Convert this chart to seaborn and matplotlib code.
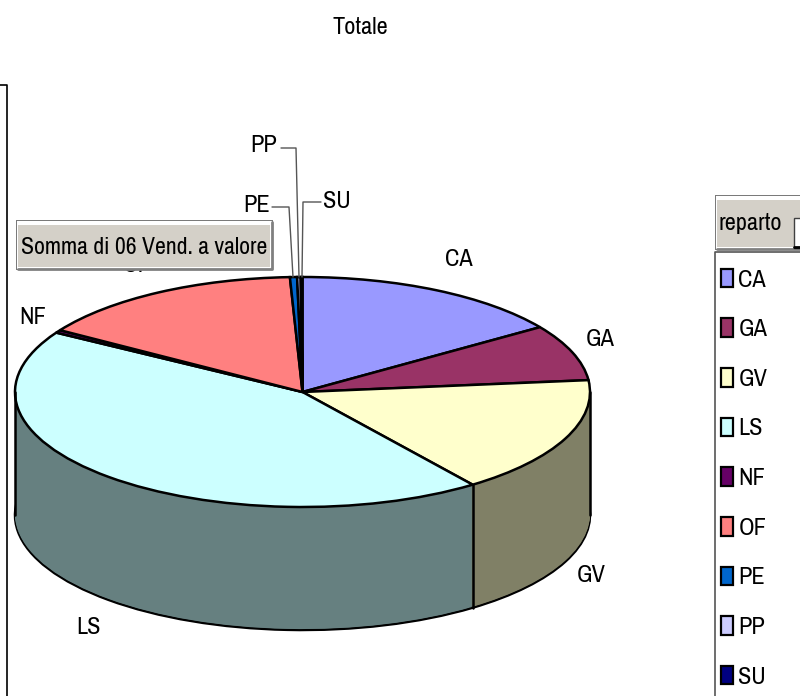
import matplotlib
matplotlib.use("Agg")
import matplotlib.pyplot as plt
from matplotlib.patches import Rectangle
import matplotlib.colors as mcolors
import numpy as np
import seaborn as sns

categories = ["CA", "GA", "GV", "LS", "NF", "OF", "PE", "PP", "SU"]
values = [15.5, 7.9, 16.6, 43.8, 0.4, 15.3, 0.4, 0.2, 0.1]
palette_hex = ["#9999FF", "#993366", "#FFFFCC", "#CCFFFF", "#660066",
               "#FF8080", "#0066CC", "#CCCCFF", "#000080"]
title = "Totale"
series_name = "Somma di 06 Vend. a valore"
legend_title = "reparto"

W, H = 800, 696
CX, CY, RX, RY, DEPTH = 302.5, 392, 287.5, 115, 123
FONT = ["Archivo Narrow", "Liberation Sans"]
FS = 17.5

sns.set_theme(style="white")
plt.rcParams["font.family"] = FONT
colors = sns.color_palette(palette_hex)
dark = [tuple(c * 0.5 for c in mcolors.to_rgb(col)) for col in colors]

fig = plt.figure(figsize=(W / 100, H / 100), dpi=100)
ax = fig.add_axes([0, 0, 1, 1])
h = DEPTH / RY
steps = 130

# side wall: stacked dark pies, deepest first
for i in range(steps + 1):
    off = -h * (1 - i / steps)
    first = i == 0
    ax.pie(values, colors=dark, startangle=90, counterclock=False, center=(0, off), radius=1,
           wedgeprops=dict(edgecolor="black" if first else None,
                           linewidth=1.8 if first else 0, antialiased=True))

# top face
top, _ = ax.pie(values, colors=colors, startangle=90, counterclock=False, center=(0, 0), radius=1,
                wedgeprops=dict(edgecolor="black", linewidth=1.8))

# vertical wall edges
ang = np.deg2rad(360 * np.cumsum(values)[2] / sum(values))
ax.plot([np.sin(ang)] * 2, [np.cos(ang), np.cos(ang) - h], color="black", lw=1.8)
for s in (-1, 1):
    ax.plot([s, s], [0, -h], color="black", lw=1.8)

ax.set_aspect("auto")
ax.set_xlim(-CX / RX, (W - CX) / RX)
ax.set_ylim((CY - H) / RY, CY / RY)
ax.axis("off")

# overlay in pixel units for the annotations
ov = fig.add_axes([0, 0, 1, 1], facecolor="none")
ov.set_xlim(0, W)
ov.set_ylim(H, 0)
ov.axis("off")

txt = dict(family=FONT, fontsize=FS, color="black")
ov.text(360, 28, title, ha="center", va="center", **txt)

label_pos = {"CA": (459, 260), "GA": (600, 339), "GV": (591, 576), "LS": (88, 628),
             "NF": (33, 317), "OF": (137, 265), "PE": (257, 206), "PP": (264, 146), "SU": (337, 201)}
for cat in categories:
    x, y = label_pos[cat]
    ov.text(x, y, cat, ha="center", va="center", zorder=2, **txt)

# leader lines
for xs, ys in [([281, 296, 299], [148, 148, 277]),
               ([272, 289, 293], [207, 207, 277]),
               ([321, 303, 302], [202, 202, 277])]:
    ov.plot(xs, ys, color="#555555", lw=1.0, zorder=2)

# left frame
ov.plot([0, 7, 7], [85, 85, H], color="black", lw=1.2, zorder=2)


def button(x0, y0, x1, y1):
    ov.add_patch(Rectangle((x0, y0), x1 - x0, y1 - y0, fc="#7a7a7a", ec="none", zorder=3))
    ov.add_patch(Rectangle((x0 + 1, y0 + 1), x1 - x0 - 2, y1 - y0 - 2, fc="white", ec="none", zorder=3))
    ov.add_patch(Rectangle((x0 + 2, y0 + 5), x1 - x0 - 5, y1 - y0 - 8, fc="#D4D0C8", ec="none", zorder=3))
    ov.plot([x0 + 2, x1 - 1, x1 - 1], [y1 - 1, y1 - 1, y0 + 2], color="#808080", lw=2, zorder=3)


# series field button
button(16, 220, 273, 270)
ov.text(21, 247, series_name, ha="left", va="center", zorder=4, family=FONT, fontsize=17.1, color="black")

# legend field button and frame
button(715, 195, 812, 250)
ov.text(718, 224, legend_title, ha="left", va="center", zorder=4, **txt)
ov.add_patch(Rectangle((794, 218), 12, 30, fc="white", ec="#404040", lw=1, zorder=4))
ov.plot([794, 806], [247, 247], color="black", lw=2, zorder=5)
ov.plot([800, 715, 715], [252, 252, H], color="#555555", lw=1.2, zorder=3)

leg = ov.legend(top, categories, loc="upper left", bbox_to_anchor=(716, 264),
                bbox_transform=ov.transData, frameon=False,
                prop=dict(family=FONT, size=FS),
                handlelength=0.5, handleheight=0.8, handletextpad=0.22,
                labelspacing=1.147, borderpad=0.2, borderaxespad=0)
for p in leg.get_patches():
    p.set_linewidth(1.6)
for t in leg.get_texts():
    t.set_color("black")

fig.savefig("out.png", dpi=100)
